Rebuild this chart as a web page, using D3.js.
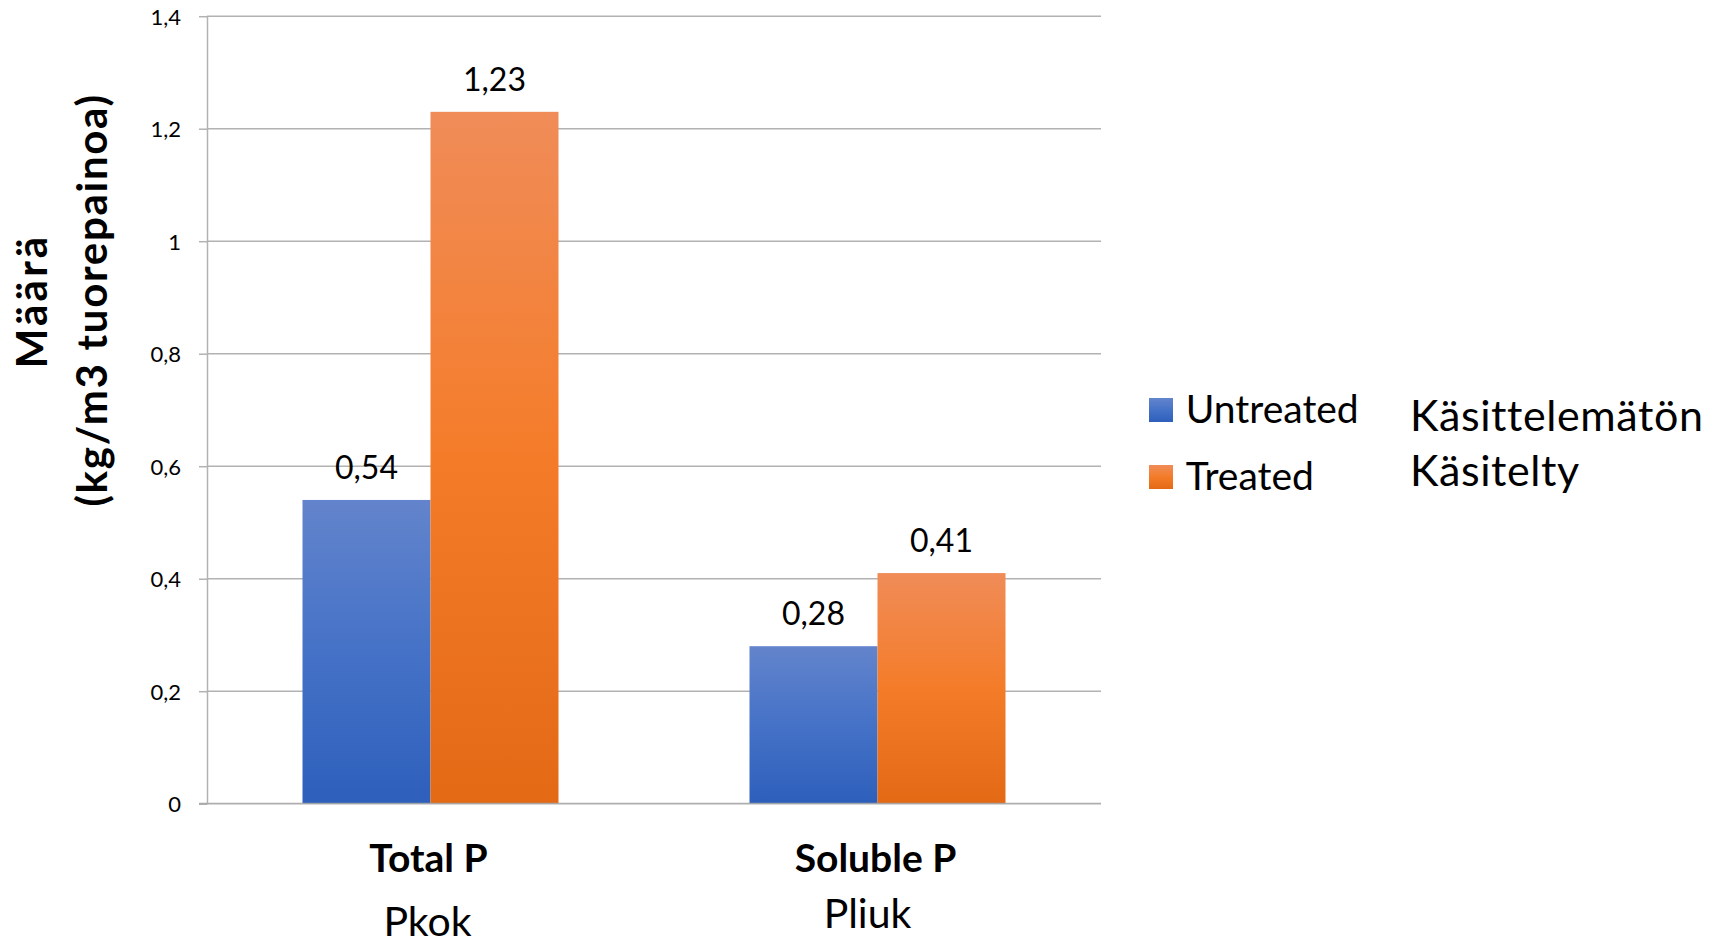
<!DOCTYPE html>
<html>
<head>
<meta charset="utf-8">
<script src="https://cdn.jsdelivr.net/npm/d3@7"></script>
<style>
  html, body { margin: 0; padding: 0; background: #fff; }
  svg { display: block; font-family: Lato, "Open Sans", sans-serif; }
</style>
</head>
<body>
<svg id="chart" width="1709" height="945"></svg>
<script>
// ---- data ----
const categories = ["Total P", "Soluble P"];
const categoriesFi = ["Pkok", "Pliuk"];
const seriesNames = ["Untreated", "Treated"];
const seriesNamesFi = ["Käsittelemätön", "Käsitelty"];
const untreated = [0.54, 0.28];
const treated = [1.23, 0.41];
const yTicks = [0, 0.2, 0.4, 0.6, 0.8, 1, 1.2, 1.4];
const yTitle = ["Määrä", "(kg/m3 tuorepainoa)"];

// ---- layout ----
const svg = d3.select("#chart");
const plot = { left: 207, right: 1101, top: 16.2, bottom: 803.7 };
const barW = 128;
const fiLabelLayout = [{ dx: -3, y: 936, size: 41 }, { dx: -10, y: 928, size: 41 }];

const x = d3.scaleBand().domain(categories).range([plot.left, plot.right]).padding(0);
const xs = d3.scaleBand().domain(seriesNames).range([-barW, barW]).padding(0);
const y = d3.scaleLinear().domain([0, 1.4]).range([plot.bottom, plot.top]);
const fmt = v => d3.format("~g")(v).replace(".", ",");
const fmt2 = v => d3.format(".2f")(v).replace(".", ",");

// gradients
const defs = svg.append("defs");
const grads = [
  { id: "gBlue", stops: [["0%", "#6384cc"], ["50%", "#4572c7"], ["100%", "#2d5fbb"]] },
  { id: "gOrange", stops: [["0%", "#f08c58"], ["50%", "#f47c29"], ["100%", "#e36915"]] }
];
grads.forEach(g => {
  const lg = defs.append("linearGradient").attr("id", g.id)
    .attr("x1", 0).attr("y1", 0).attr("x2", 0).attr("y2", 1);
  g.stops.forEach(s => lg.append("stop").attr("offset", s[0]).attr("stop-color", s[1]));
});
const color = d3.scaleOrdinal().domain(seriesNames).range(["url(#gBlue)", "url(#gOrange)"]);

// gridlines
svg.append("g").selectAll("line").data(yTicks.filter(d => d > 0)).join("line")
  .attr("x1", plot.left).attr("x2", plot.right)
  .attr("y1", d => y(d)).attr("y2", d => y(d))
  .attr("stroke", "#b2b2b2").attr("stroke-width", 1.5);

// y axis
const yAxis = svg.append("g").attr("transform", `translate(${plot.left},0)`)
  .call(d3.axisLeft(y).tickValues(yTicks).tickFormat(fmt).tickSize(8).tickPadding(18).tickSizeOuter(0));
yAxis.select(".domain").attr("stroke", "#b2b2b2").attr("stroke-width", 1.5);
yAxis.selectAll(".tick line").attr("stroke", "#b2b2b2").attr("stroke-width", 1.5);
yAxis.selectAll(".tick text").attr("font-size", 22).attr("fill", "#000")
  .attr("font-family", "Lato").attr("dy", "0.36em");

// bars
const rows = categories.map((c, i) => ({ cat: c, vals: [untreated[i], treated[i]] }));
const groups = svg.append("g").selectAll("g").data(rows).join("g")
  .attr("transform", d => `translate(${x(d.cat) + x.bandwidth() / 2},0)`);
groups.selectAll("rect").data(d => d.vals.map((v, j) => ({ s: seriesNames[j], v }))).join("rect")
  .attr("x", d => xs(d.s)).attr("width", xs.bandwidth())
  .attr("y", d => y(d.v)).attr("height", d => y(0) - y(d.v))
  .attr("fill", d => color(d.s));
groups.selectAll("text.val").data(d => d.vals.map((v, j) => ({ s: seriesNames[j], v }))).join("text")
  .attr("class", "val")
  .attr("x", d => xs(d.s) + xs.bandwidth() / 2).attr("y", d => y(d.v) - 21)
  .attr("text-anchor", "middle").attr("font-size", 32).attr("fill", "#000")
  .text(d => fmt2(d.v));

// x baseline
svg.append("line").attr("x1", plot.left - 8).attr("x2", plot.right)
  .attr("y1", y(0)).attr("y2", y(0))
  .attr("stroke", "#a5a5a5").attr("stroke-width", 1.8).attr("stroke-opacity", 0.9);

// category labels
svg.append("g").selectAll("text").data(categories).join("text")
  .attr("x", d => x(d) + x.bandwidth() / 2 - 2).attr("y", 872)
  .attr("text-anchor", "middle").attr("font-size", 39).attr("font-weight", "bold").attr("fill", "#000")
  .text(d => d);
svg.append("g").selectAll("text").data(categoriesFi).join("text")
  .attr("x", (d, i) => x(categories[i]) + x.bandwidth() / 2 + fiLabelLayout[i].dx)
  .attr("y", (d, i) => fiLabelLayout[i].y)
  .attr("text-anchor", "middle").attr("font-size", (d, i) => fiLabelLayout[i].size).attr("fill", "#000")
  .text(d => d);

// y title
const yt = svg.append("g");
yt.append("text").attr("transform", "translate(47,301) rotate(-90)")
  .attr("text-anchor", "middle").attr("font-size", 42).attr("font-weight", "bold").attr("fill", "#000")
  .attr("letter-spacing", 3.2)
  .text(yTitle[0]);
yt.append("text").attr("transform", "translate(107,300) rotate(-90)")
  .attr("text-anchor", "middle").attr("font-size", 42).attr("font-weight", "bold").attr("fill", "#000")
  .attr("letter-spacing", 1.7)
  .text(yTitle[1]);

// legend
const leg = svg.append("g").selectAll("g").data(seriesNames).join("g")
  .attr("transform", (d, i) => `translate(1149,${398 + i * 67})`);
leg.append("rect").attr("width", 24).attr("height", 24).attr("fill", d => color(d));
leg.append("text").attr("x", 36.7).attr("y", 25.3).attr("font-size", 39).attr("fill", "#000").text(d => d);

svg.append("g").selectAll("text").data(seriesNamesFi).join("text")
  .attr("x", 1410).attr("y", (d, i) => 431 + i * 55)
  .attr("font-size", 43).attr("letter-spacing", 0.6).attr("fill", "#000").text(d => d);
</script>
</body>
</html>
